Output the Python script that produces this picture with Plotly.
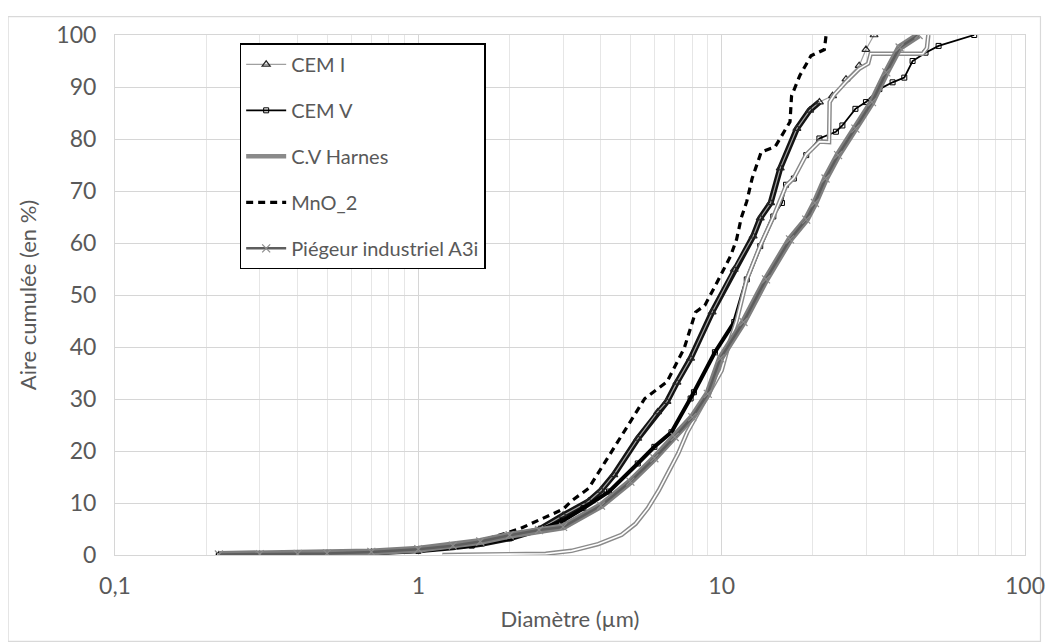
import plotly.graph_objects as go

# ---- data (diameter in µm, cumulative area in %) ----
cem1_x = [0.22, 0.3, 0.4, 0.5, 0.7, 1.0, 1.3, 1.6, 2.0, 2.5, 3.0, 3.64, 4.0, 4.41, 5.29, 6.15, 6.6, 7.12,
          7.9, 9.3, 11.0, 12.7, 13.4, 14.5, 15.6, 17.7, 19.5, 21.0, 23.2, 25.7, 28.4, 29.9, 31.8]
cem1_y = [0.0, 0.05, 0.15, 0.25, 0.5, 0.9, 1.5, 2.1, 3.2, 4.9, 7.6, 10.3, 12.4, 15.4, 22.4, 27.5, 29.5, 33.2,
          37.8, 46.7, 54.9, 61.3, 64.8, 67.7, 74.4, 82.0, 85.5, 87.1, 88.3, 91.5, 94.1, 97.2, 100.0]

cem5_x = [0.22, 0.4, 0.7, 1.0, 1.5, 2.0, 2.5, 3.0, 3.5, 4.25, 5.29, 6.0, 6.83, 7.9, 8.1, 9.5, 11.0, 12.1,
          13.4, 14.8, 15.8, 16.3, 17.3, 19.0, 21.0, 23.8, 25.0, 27.6, 29.9, 33.1, 36.6, 40.0, 42.6, 47.0,
          51.9, 68.0]
cem5_y = [0.0, 0.1, 0.4, 0.8, 1.8, 3.2, 4.8, 6.6, 9.0, 12.2, 17.6, 20.8, 23.6, 30.1, 31.3, 39.0, 44.8, 53.0,
          59.4, 65.1, 67.7, 71.2, 72.4, 76.9, 80.1, 81.4, 82.6, 85.8, 87.1, 89.6, 90.9, 91.8, 95.0, 96.6,
          97.9, 100.0]

harnes_x = [1.2, 1.51, 2.0, 2.63, 3.2, 3.92, 4.68, 5.2, 5.71, 6.2, 6.6, 7.2, 7.7, 8.5, 9.4, 10.0,
            10.5, 11.2, 12.1, 13.4, 14.8, 16.3, 17.3, 19.0, 21.0, 22.6, 22.7, 23.5, 25.7, 28.4, 30.4, 31.0,
            46.0, 47.5, 48.0]
harnes_y = [0.0, 0.05, 0.1, 0.25, 0.8, 2.1, 3.9, 6.0, 9.0, 12.4, 15.4, 19.6, 23.6, 28.1, 32.5, 35.5,
            40.0, 45.0, 53.0, 59.5, 65.0, 71.0, 72.5, 77.0, 79.5, 79.4, 87.1, 88.5, 91.0, 93.5, 94.5, 96.4,
            96.4, 97.5, 100.0]

mno2_x = [0.3, 0.5, 1.0, 1.5, 2.15, 2.63, 3.0, 3.2, 3.64, 4.13, 4.68, 5.17, 5.58, 6.6, 7.52, 8.2, 8.8,
          9.65, 10.7, 11.2, 11.6, 12.1, 12.6, 13.5, 15.0, 15.8, 16.8, 17.0, 18.1, 19.7, 21.8, 22.1]
mno2_y = [0.0, 0.3, 1.0, 2.2, 5.0, 7.2, 8.8, 10.4, 12.8, 17.9, 23.0, 26.8, 30.1, 33.3, 39.7, 46.7, 48.0,
          52.4, 57.5, 60.7, 64.8, 68.0, 72.4, 77.5, 78.5, 80.7, 83.3, 88.3, 92.2, 96.0, 97.2, 100.0]

a3i_x = [0.22, 0.3, 0.4, 0.5, 0.7, 1.0, 1.3, 1.6, 2.0, 2.5, 3.0, 4.0, 5.0, 6.0, 7.0, 8.0, 9.0, 9.9, 11.8,
         14.0, 16.8, 19.0, 20.3, 22.0, 24.2, 27.6, 31.3, 34.9, 38.6, 44.6]
a3i_y = [0.1, 0.15, 0.2, 0.3, 0.6, 1.1, 1.8, 2.6, 3.8, 4.8, 5.4, 9.5, 14.1, 18.6, 22.7, 26.5, 31.0, 37.8,
         44.8, 53.0, 60.7, 64.5, 67.7, 72.4, 76.9, 82.0, 87.1, 92.8, 97.6, 100.0]

names = ["CEM I", "CEM V", "C.V Harnes", "MnO_2", "Piégeur industriel A3i"]

x_tickvals = [0.1, 1, 10, 100]
x_ticktext = ["0,1", "1", "10", "100"]
x_minor = [m * d for d in (0.1, 1, 10) for m in range(2, 10)]

FONT = "Lato"
TXT = "#595959"

# dense part of the measured curves (where markers merge into a solid band)
n1 = sum(1 for v in cem1_y if v <= 88)
n5 = sum(1 for v in cem5_y if v <= 66)

fig = go.Figure()

# CEM I : dense band + thin gray line with open triangles
fig.add_trace(go.Scatter(x=cem1_x[:n1], y=cem1_y[:n1], mode="lines", line=dict(color="#141414", width=6),
                         legendgroup="g1", showlegend=False, hoverinfo="skip"))
fig.add_trace(go.Scatter(x=cem1_x, y=cem1_y, name=names[0], legendgroup="g1", mode="lines+markers",
                         line=dict(color="#a0a0a0", width=1.2),
                         marker=dict(symbol="triangle-up-open", size=7, color="#262626",
                                     line=dict(width=1.2, color="#262626"))))

# CEM V
fig.add_trace(go.Scatter(x=cem5_x[:n5], y=cem5_y[:n5], mode="lines", line=dict(color="#000000", width=4),
                         legendgroup="g2", showlegend=False, hoverinfo="skip"))
fig.add_trace(go.Scatter(x=cem5_x, y=cem5_y, name=names[1], legendgroup="g2", mode="lines+markers",
                         line=dict(color="#000000", width=1.8),
                         marker=dict(symbol="square-open", size=5, color="#000000",
                                     line=dict(width=1, color="#000000"))))

# C.V Harnes : double line
fig.add_trace(go.Scatter(x=harnes_x, y=harnes_y, name=names[2], legendgroup="g3", mode="lines",
                         line=dict(color="#8a8a8a", width=4.5)))
fig.add_trace(go.Scatter(x=harnes_x, y=harnes_y, mode="lines", line=dict(color="#ffffff", width=1.6),
                         legendgroup="g3", showlegend=False, hoverinfo="skip"))

# MnO_2 : dashed
fig.add_trace(go.Scatter(x=mno2_x, y=mno2_y, name=names[3], legendgroup="g4", mode="lines",
                         line=dict(color="#000000", width=3.2, dash="7px,5px")))

# Piégeur industriel A3i : gray band with x markers
fig.add_trace(go.Scatter(x=a3i_x, y=a3i_y, mode="lines", line=dict(color="#7f7f7f", width=7),
                         legendgroup="g5", showlegend=False, hoverinfo="skip"))
fig.add_trace(go.Scatter(x=a3i_x, y=a3i_y, name=names[4], legendgroup="g5", mode="lines+markers",
                         line=dict(color="#5e5e5e", width=2.5),
                         marker=dict(symbol="x-thin-open", size=8, color="#8c8c8c",
                                     line=dict(width=1.2, color="#8c8c8c"))))

fig.update_layout(
    width=1049, height=636,
    margin=dict(l=107, r=23, t=23, b=89),
    paper_bgcolor="#ffffff", plot_bgcolor="#ffffff",
    font=dict(family=FONT, color=TXT, size=20),
    showlegend=True,
    legend=dict(x=0.137, y=0.984, xanchor="left", yanchor="top",
                bgcolor="#ffffff", bordercolor="#000000", borderwidth=1.5,
                font=dict(family=FONT, size=20, color=TXT),
                traceorder="grouped", tracegroupgap=17, itemwidth=40),
    xaxis=dict(type="log", range=[-1, 2], tickmode="array", tickvals=x_tickvals, ticktext=x_ticktext,
               showgrid=True, gridcolor="#d6d6d6", gridwidth=1, zeroline=False,
               showline=True, mirror=True, linecolor="#d6d6d6", linewidth=1,
               ticks="", ticklabelstandoff=10,
               tickfont=dict(family=FONT, size=23, color=TXT),
               minor=dict(tickmode="array", tickvals=x_minor, showgrid=True, gridcolor="#e6e6e6",
                          gridwidth=1, ticks=""),
               title=dict(text="Diamètre (µm)", font=dict(family=FONT, size=22, color=TXT), standoff=14)),
    yaxis=dict(range=[0, 100], dtick=10, tick0=0, showgrid=True, gridcolor="#d6d6d6", gridwidth=1,
               zeroline=False, showline=True, mirror=True, linecolor="#d6d6d6", linewidth=1,
               ticks="", ticklabelstandoff=13,
               tickfont=dict(family=FONT, size=23, color=TXT),
               title=dict(text="Aire cumulée (en %)", font=dict(family=FONT, size=22, color=TXT),
                          standoff=13)),
    shapes=[dict(type="rect", xref="paper", yref="paper",
                 x0=-0.1175, x1=1.017, y0=-0.166, y1=1.0355,
                 line=dict(color="#d9d9d9", width=1.2), fillcolor="rgba(0,0,0,0)", layer="below")],
)

fig.write_html("out.html")
